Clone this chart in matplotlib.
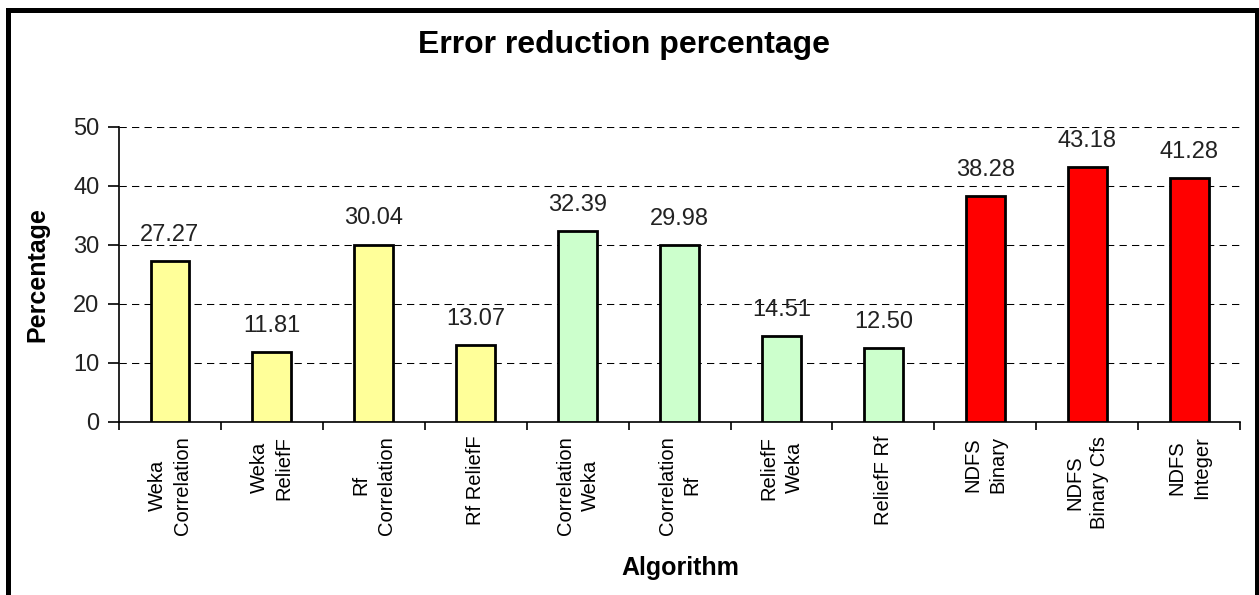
import numpy as np
import matplotlib
matplotlib.use('Agg')
from matplotlib import pyplot as plt
from matplotlib.patches import Rectangle

plt.rcParams['font.family'] = ['Liberation Sans', 'DejaVu Sans']

labels = ['Weka\nCorrelation', 'Weka\nReliefF', 'Rf\nCorrelation', 'Rf ReliefF',
          'Correlation\nWeka', 'Correlation\nRf', 'ReliefF\nWeka', 'ReliefF Rf',
          'NDFS\nBinary', 'NDFS\nBinary Cfs', 'NDFS\nInteger']
values = [27.27, 11.81, 30.04, 13.07, 32.39, 29.98, 14.51, 12.50, 38.28, 43.18, 41.28]
colors = ['#FFFF99'] * 4 + ['#CCFFCC'] * 4 + ['#FF0000'] * 3

fig = plt.figure(figsize=(12.59, 5.95), dpi=100)
ax = fig.add_axes([0.0945, 0.2908, 0.8905, 0.4958])

x = np.arange(len(values))
ax.bar(x, values, width=0.38, color=colors, edgecolor='black', linewidth=2, zorder=3)

# value labels above bars
for xi, v in zip(x, values):
    ax.annotate('%.2f' % v, (xi, v), xytext=(0, 11), textcoords='offset points',
                ha='center', va='bottom', fontsize=17, color='#222222')

ax.set_xlim(-0.5, len(values) - 0.5)
ax.set_ylim(0, 50)
ax.set_yticks([0, 10, 20, 30, 40, 50])
ax.tick_params(axis='y', labelsize=17, direction='out', length=8, width=1.2, pad=6,
               labelcolor='#222222')

# ticks at category boundaries, labels at centres
ax.set_xticks(np.arange(-0.5, len(values)), [''] * (len(values) + 1))
ax.tick_params(axis='x', which='major', direction='out', length=6, width=1.2)
ax.set_xticks(x, labels, minor=True)
ax.tick_params(axis='x', which='minor', length=0, pad=10, labelsize=14.5)
for t in ax.get_xticklabels(minor=True):
    t.set_rotation(90)
    t.set_va('top')
    t.set_ha('center')
    t.set_multialignment('center')
    t.set_linespacing(1.4)

ax.grid(axis='y', color='black', linestyle=(0, (7, 5)), linewidth=0.75, zorder=0)
for s in ['top', 'right']:
    ax.spines[s].set_visible(False)
ax.spines['left'].set_linewidth(1.2)
ax.spines['bottom'].set_linewidth(1.2)

ax.set_ylabel('Percentage', fontsize=18, fontweight='bold', labelpad=17)
fig.text(0.54, 0.045, 'Algorithm', fontsize=18, fontweight='bold', ha='center', va='center')
fig.text(0.496, 0.924, 'Error reduction percentage', fontsize=23, fontweight='bold',
         ha='center', va='center')

# outer border like the chart area frame
fig.patches.append(Rectangle((0.0064, -0.05), 0.992, 1.0324, transform=fig.transFigure,
                             fill=False, edgecolor='black', linewidth=3.6))

fig.savefig('out.png', dpi=100)
